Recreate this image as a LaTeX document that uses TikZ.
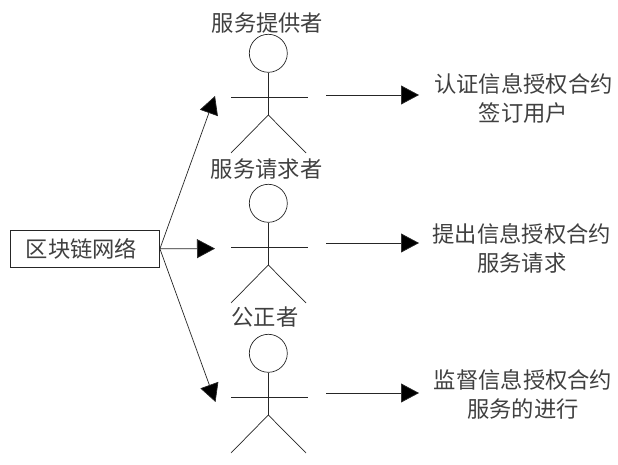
\documentclass[tikz,border=0pt]{standalone}
\usepackage{fontspec}
\newfontfamily\cjk{Noto Sans CJK SC}
\usetikzlibrary{arrows.meta}
\tikzset{
 lbl/.style={font=\cjk\fontsize{22.3pt}{29pt}\selectfont,align=center,inner sep=0pt,text=black!75},
 boxn/.style={draw=black!85,line width=0.7pt,minimum width=149.5pt,minimum height=37.5pt,inner sep=0pt},
 conn/.style={draw=black!85,line width=0.7pt,-{Triangle[length=18pt,width=19pt,fill=black]}},
 limb/.style={draw=black!85,line width=0.7pt},
 headc/.style={circle,draw=black!85,line width=0.7pt,minimum size=38pt,inner sep=0pt}
}
\newcommand{\stickman}[2]{%
 \node[headc] (h#1) at (268.3,#2) {};
 \coordinate (la#1) at (231,#2+44.4);
 \coordinate (ra#1) at (307.5,#2+44.4);
 \coordinate (cr#1) at (268.3,#2+61.7);
 \coordinate (ll#1) at (231,#2+99.7);
 \coordinate (rl#1) at (306,#2+99.7);
 \draw[limb] (h#1.south) -- (cr#1);
 \draw[limb] (la#1) -- (ra#1);
 \draw[limb] (ll#1) -- (cr#1) -- (rl#1);
}
\begin{document}
\begin{tikzpicture}[x=1pt,y=-1pt]
\useasboundingbox (0,0) rectangle (618,465);
\fill[white] (0,0) rectangle (618,465);
\stickman{a}{53.3}
\stickman{b}{203.3}
\stickman{c}{353.3}
\node[boxn] (net) at (84.8,248.8) {};
\node[lbl] (netl) at (81.5,249) {区块链网络};
\node[lbl] (na) at (267.5,23) {服务提供者};
\node[lbl] (nb) at (266.7,169) {服务请求者};
\node[lbl] (nc) at (265,317) {公正者};
\node[lbl] (ra) at (523.5,98) {认证信息授权合约\\签订用户};
\node[lbl] (rb) at (521.7,248) {提出信息授权合约\\服务请求};
\node[lbl] (rc) at (523,394) {监督信息授权合约\\服务的进行};
\coordinate (ta) at (215,96);
\coordinate (tb) at (215,248.6);
\coordinate (tc) at (215.5,402);
\draw[conn] (net.east) -- (ta);
\draw[conn] (net.east) -- (tb);
\draw[conn] (net.east) -- (tc);
\coordinate (sa) at (326,95);
\coordinate (ea) at (419,95);
\coordinate (sb) at (326,243);
\coordinate (eb) at (419,243);
\coordinate (sc) at (326,393);
\coordinate (ec) at (419,393);
\draw[conn] (sa) -- (ea);
\draw[conn] (sb) -- (eb);
\draw[conn] (sc) -- (ec);
\end{tikzpicture}
\end{document}
